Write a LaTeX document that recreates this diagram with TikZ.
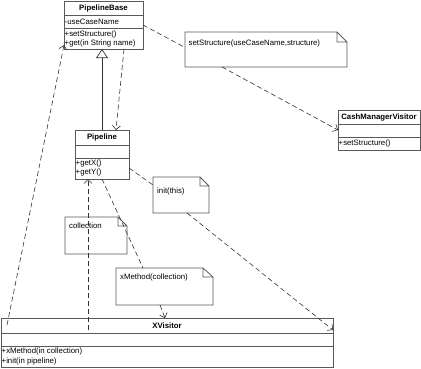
\documentclass[tikz,border=0pt]{standalone}
\usepackage{fontspec}
\setmainfont{Liberation Sans}
\usetikzlibrary{arrows.meta}
\begin{document}
\begin{tikzpicture}[x=1pt,y=-1pt,font=\fontsize{7.8}{9}\selectfont,
  box/.style={draw=black!65,line width=0.9pt,inner sep=0pt,outer sep=0pt,anchor=north west},
  divline/.style={draw=black!65,line width=0.9pt},
  ttl/.style={font=\fontsize{7.8}{9}\selectfont\bfseries,inner sep=0pt},
  txt/.style={anchor=west,inner sep=0pt},
  notebox/.style={inner sep=0pt,outer sep=0pt,anchor=north west},
  noteline/.style={draw=black!65,line width=0.8pt},
  dep/.style={draw=black!80,line width=0.6pt,dash pattern=on 5pt off 3pt},
  opentip/.style={-{Straight Barb[length=4pt,width=8pt]}},
  gen/.style={draw=black!80,line width=0.7pt,-{Triangle[open,length=9pt,width=12pt,fill=white]}}]
\useasboundingbox (0,0) rectangle (421,368);
\fill[white] (0,0) rectangle (421,368);

% ---- PipelineBase ----
\node[box,minimum width=79pt,minimum height=48pt] (pb) at (64,1) {};
\draw[divline] (64,15) -- (143,15) (64,28) -- (143,28);
\node[ttl] at (103.5,8) {PipelineBase};
\node[txt] at (64.5,21.5) {-useCaseName};
\node[txt] at (64.5,34) {+setStructure()};
\node[txt] at (64.5,43.5) {+get(in String name)};

% ---- CashManagerVisitor ----
\node[box,minimum width=82pt,minimum height=40pt] (cmv) at (338,110) {};
\draw[divline] (338,124) -- (420,124) (338,137) -- (420,137);
\node[ttl] at (379,117) {CashManagerVisitor};
\node[txt] at (338.5,143.5) {+setStructure()};

% ---- Pipeline ----
\node[box,minimum width=54pt,minimum height=49pt] (pl) at (75,130) {};
\draw[divline] (75,145) -- (129,145) (75,158) -- (129,158);
\node[ttl] at (102,137.5) {Pipeline};
\node[txt] at (75.5,163.5) {+getX()};
\node[txt] at (75.5,172.5) {+getY()};

% ---- XVisitor ----
\node[box,minimum width=332pt,minimum height=49pt] (xv) at (1,318) {};
\draw[divline] (1,333) -- (333,333) (1,346) -- (333,346);
\node[ttl] at (167,325.5) {XVisitor};
\node[txt] at (1.5,351.5) {+xMethod(in collection)};
\node[txt] at (1.5,361) {+init(in pipeline)};

% ---- Notes ----
\node[notebox,minimum width=162pt,minimum height=35pt] (n1) at (185,32) {};
\draw[noteline] (185,32) -- (337,32) -- (347,42) -- (347,67) -- (185,67) -- cycle
  (337,32) -- (337,42) -- (347,42);
\node[txt] at (188.5,43) {setStructure(useCaseName,structure)};

\node[notebox,minimum width=56pt,minimum height=36pt] (ni) at (153,177) {};
\draw[noteline] (153,177) -- (200,177) -- (209,186) -- (209,213) -- (153,213) -- cycle
  (200,177) -- (200,186) -- (209,186);
\node[txt] at (157,191) {init(this)};

\node[notebox,minimum width=62pt,minimum height=37pt] (nc) at (65,217) {};
\draw[noteline] (65,217) -- (118,217) -- (127,226) -- (127,254) -- (65,254) -- cycle
  (118,217) -- (118,226) -- (127,226);
\node[txt] at (69,226) {collection};

\node[notebox,minimum width=97pt,minimum height=37pt] (nx) at (116,268) {};
\draw[noteline] (116,268) -- (203,268) -- (213,277) -- (213,305) -- (116,305) -- cycle
  (203,268) -- (203,277) -- (213,277);
\node[txt] at (120,277) {xMethod(collection)};

% ---- Connectors ----
\draw[gen] (pl.north) -- (pl.north |- pb.south);
\draw[dep,opentip] ([xshift=60pt]pb.south west) -- ([xshift=41pt]pl.north west);
\draw[dep,opentip] ([xshift=6pt,yshift=-7pt]xv.north west) -- ([yshift=4pt]pb.south west);
\draw[dep] (pb.east) -- ([yshift=2pt]n1.west);
\draw[dep,opentip] ([xshift=37pt]n1.south west) -- (cmv.west);
\coordinate (xvp) at ([xshift=87pt,yshift=-12pt]xv.north west);
\draw[dep,opentip] (xvp) -- (xvp |- pl.south);
\draw[dep] (pl.south) -- ([xshift=27pt]nx.north west);
\draw[dep,opentip] ([xshift=44pt]nx.south west) -- ([xshift=164pt]xv.north west);
\draw[dep] ([yshift=-38pt]pl.north east) -- ([yshift=-8pt]ni.north west);
\draw[dep,opentip] ([xshift=34pt]ni.south west) -- ([yshift=-12pt]xv.north east);
\end{tikzpicture}
\end{document}
